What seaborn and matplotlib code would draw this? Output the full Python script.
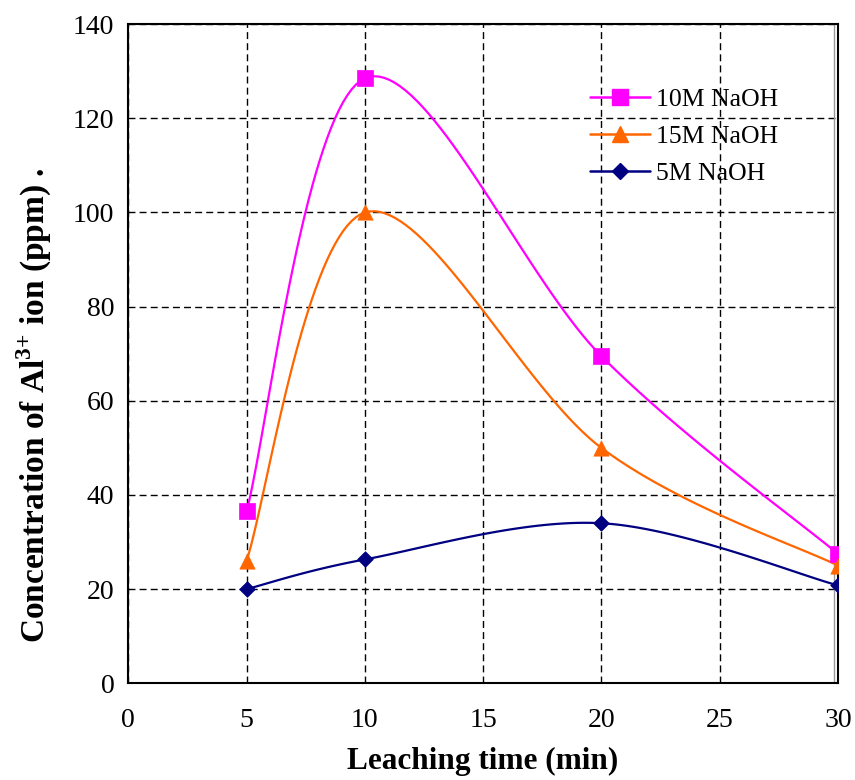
import numpy as np
import pandas as pd
import matplotlib
matplotlib.use("Agg")
import matplotlib.pyplot as plt
from matplotlib.lines import Line2D
import seaborn as sns

# ---- data ----
time_min = [5, 10, 20, 30]
naoh_10m = [36.5, 128.5, 69.5, 27.5]
naoh_15m = [26.0, 100.0, 50.0, 25.0]
naoh_5m = [20.0, 26.3, 34.0, 20.8]
series_labels = ["10M NaOH", "15M NaOH", "5M NaOH"]
x_ticks = [0, 5, 10, 15, 20, 25, 30]
y_ticks = [0, 20, 40, 60, 80, 100, 120, 140]

colors = ["#FF00FF", "#FF6600", "#000080"]
markers = ["s", "^", "D"]
msizes = [11, 11, 8]

sns.set_theme(style="white")
plt.rcParams["font.family"] = ["Liberation Serif", "DejaVu Serif"]
plt.rcParams["mathtext.fontset"] = "custom"
plt.rcParams["mathtext.rm"] = "Liberation Serif"
plt.rcParams["mathtext.bf"] = "Liberation Serif:bold"
plt.rcParams["text.color"] = "black"
plt.rcParams["axes.labelcolor"] = "black"


def smooth(xs, ys, n=40):
    """Excel-like smoothed line (parametric Bezier / Catmull-Rom)."""
    P = np.column_stack([xs, ys]).astype(float)
    ext = np.vstack([P[0], P, P[-1]])
    out = []
    for i in range(len(P) - 1):
        p0, p1, p2, p3 = ext[i], ext[i + 1], ext[i + 2], ext[i + 3]
        b1 = p1 + (p2 - p0) / 6.0
        b2 = p2 - (p3 - p1) / 6.0
        t = np.linspace(0, 1, n)[:, None]
        seg = ((1 - t) ** 3) * p1 + 3 * ((1 - t) ** 2) * t * b1 + 3 * (1 - t) * t ** 2 * b2 + t ** 3 * p2
        out.append(seg if i == 0 else seg[1:])
    c = np.vstack(out)
    return c[:, 0], c[:, 1]


fig = plt.figure(figsize=(8.55, 7.8), dpi=100)
ax = fig.add_axes([0.150, 0.124, 0.830, 0.845])

all_series = [naoh_10m, naoh_15m, naoh_5m]
for lab, vals, col, mk, ms in zip(series_labels, all_series, colors, markers, msizes):
    sx, sy = smooth(time_min, vals)
    curve = pd.DataFrame({"x": sx, "y": sy})
    sns.lineplot(data=curve, x="x", y="y", ax=ax, color=col, linewidth=1.6,
                 sort=False, estimator=None, zorder=3)
    pts = pd.DataFrame({"x": time_min, "y": vals})
    sns.scatterplot(data=pts, x="x", y="y", ax=ax, color=col, marker=mk,
                    s=ms ** 2, edgecolor=col, linewidth=0.5, zorder=4)

ax.set_xlim(0, 30)
ax.set_ylim(0, 140)
ax.set_xticks(x_ticks)
ax.set_yticks(y_ticks)
ax.grid(True, color="black", linestyle=(0, (5, 3)), linewidth=1.0)
ax.set_axisbelow(True)
for sp in ax.spines.values():
    sp.set_color("black")
    sp.set_linewidth(1.5)
ax.axvline(29.85, color="#999999", linewidth=1.0, zorder=2)

ax.tick_params(axis="both", direction="inout", length=10, width=1.2,
               labelsize=20, colors="black", pad=5)
ax.tick_params(axis="x", pad=13)
ax.set_xlabel("Leaching time (min)", fontsize=22.5, fontweight="bold",
              labelpad=10, color="black")
ax.set_ylabel(r"Concentration of Al$^{\mathbf{3{+}}}$ ion (ppm) .", fontsize=24,
              fontweight="bold", color="black")
ax.yaxis.set_label_coords(-0.105, 0.422)

handles = [Line2D([0], [0], color=c, marker=m, markersize=s, linewidth=1.8,
                  markeredgecolor=c) for c, m, s in zip(colors, markers, msizes)]
ax.legend(handles, series_labels, loc="upper right", bbox_to_anchor=(0.949, 0.938),
          frameon=False, fontsize=18.5, handlelength=2.3, labelspacing=0.55,
          handletextpad=0.27, labelcolor="black")

fig.savefig("out.png", dpi=100)
